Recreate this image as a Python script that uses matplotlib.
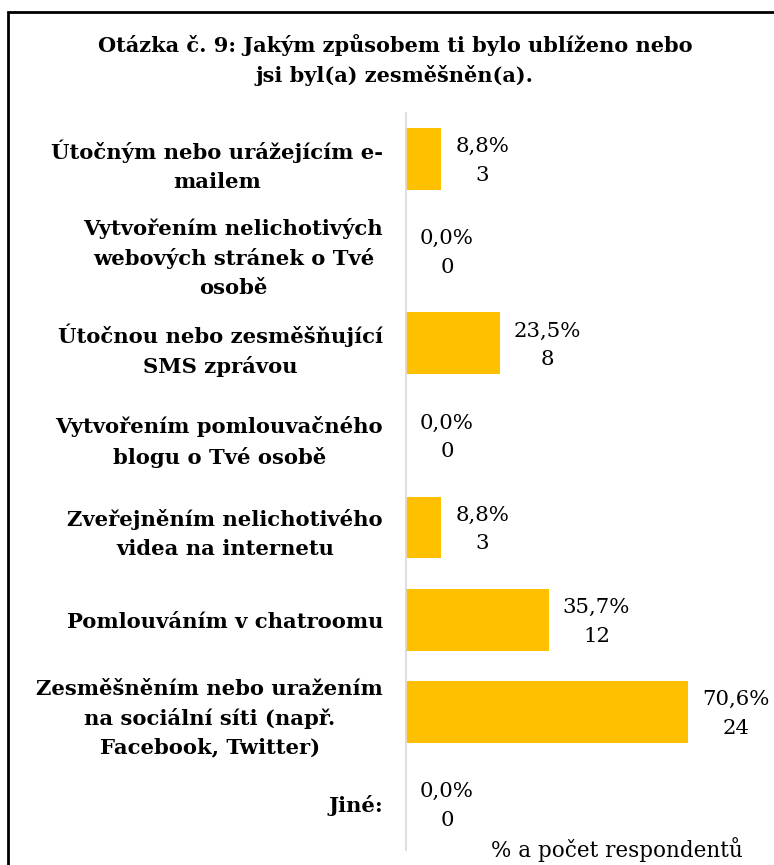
import matplotlib
matplotlib.use("Agg")
import matplotlib.pyplot as plt
from matplotlib.patches import Rectangle

categories = [
    "Útočným nebo urážejícím e-\nmailem",
    "Vytvořením nelichotivých\nwebových stránek o Tvé\nosobě",
    "Útočnou nebo zesměšňující\nSMS zprávou",
    "Vytvořením pomlouvačného\nblogu o Tvé osobě",
    "Zveřejněním nelichotivého\nvidea na internetu",
    "Pomlouváním v chatroomu",
    "Zesměšněním nebo uražením\nna sociální síti (např.\nFacebook, Twitter)",
    "Jiné:",
]
percent = [8.8, 0.0, 23.5, 0.0, 8.8, 35.7, 70.6, 0.0]
counts = [3, 0, 8, 0, 3, 12, 24, 0]
title = "Otázka č. 9: Jakým způsobem ti bylo ublíženo nebo\njsi byl(a) zesměšněn(a)."
xlabel = "% a počet respondentů"

W, H = 774, 865
fig = plt.figure(figsize=(W / 100, H / 100), dpi=100)
serif = ["DejaVu Serif"]

# outer border
fig.patches.append(Rectangle((8 / W, -0.05), 1.2, (H - 12) / H + 0.05,
                             transform=fig.transFigure, fill=False,
                             edgecolor="black", linewidth=2))

ax = fig.add_axes([406 / W, 1 - 850 / H, (W - 406) / W, (850 - 113) / H])
y = list(range(len(categories)))
ax.barh(y, percent, height=0.67, color="#FFC000")
ax.set_ylim(len(categories) - 0.5, -0.5)
ax.set_xlim(0, 92)
for s in ["top", "right", "bottom"]:
    ax.spines[s].set_visible(False)
ax.spines["left"].set_color("#d9d9d9")
ax.spines["left"].set_linewidth(1.2)
ax.set_xticks([])
ax.set_yticks(y)
ax.set_yticklabels(categories, fontfamily=serif, fontweight="bold",
                   fontsize=15.2, multialignment="center", linespacing=1.55)
ax.tick_params(axis="y", length=0, pad=16.5)

for i, (p, c) in enumerate(zip(percent, counts)):
    ax.annotate(f"{p:.1f}%".replace(".", ",") + f"\n{c}", (p, i),
                xytext=(14, -2), textcoords="offset pixels",
                ha="left", va="center", multialignment="center",
                fontfamily=serif, fontsize=15.3, linespacing=1.65)

fig.text(395 / W, 1 - 60 / H, title, ha="center", va="center",
         fontfamily=serif, fontweight="bold", fontsize=15, linespacing=1.5)
fig.text(617 / W, 1 - 850 / H, xlabel, ha="center", va="center",
         fontfamily=serif, fontsize=15.5)

fig.savefig("out.png", dpi=100)
